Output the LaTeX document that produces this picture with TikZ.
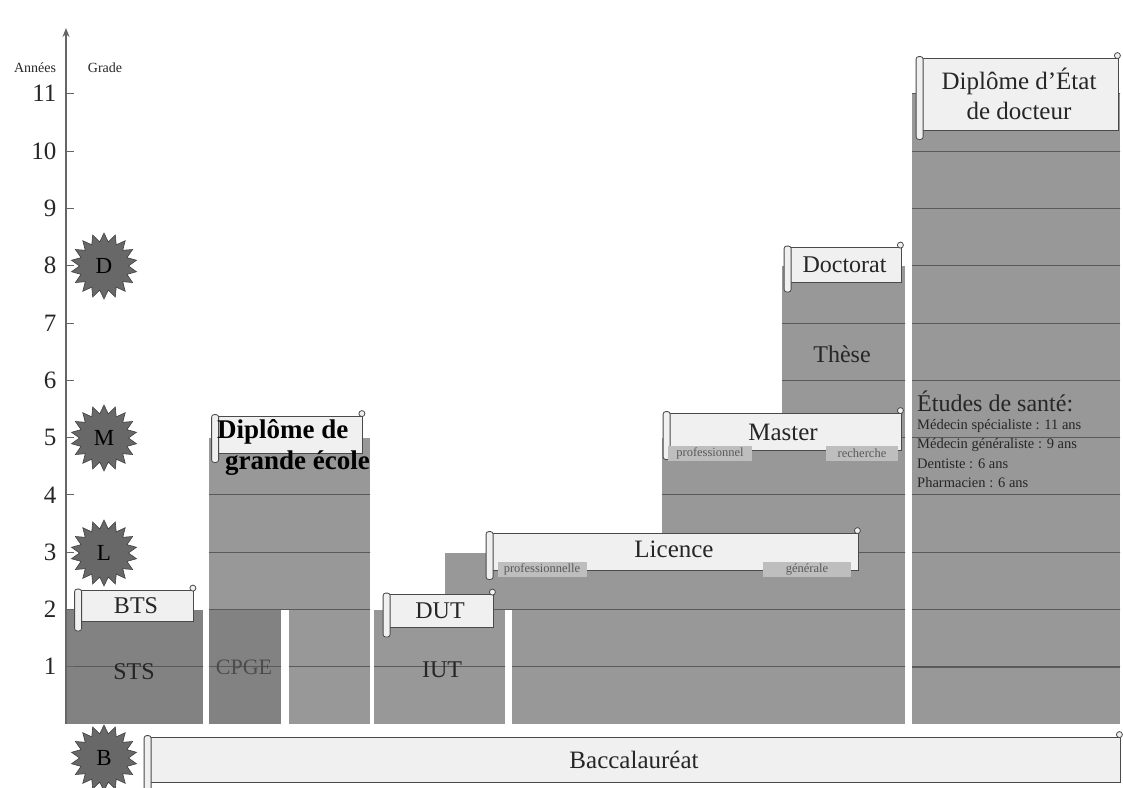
\documentclass[tikz,border=0pt]{standalone}
\usepackage{fontspec}
\setmainfont{Liberation Serif}
\usetikzlibrary{shapes.geometric,arrows.meta}
\definecolor{barfill}{HTML}{989898}
\definecolor{bardark}{HTML}{828282}
\definecolor{scrollfill}{HTML}{F0F0F0}
\definecolor{scrollline}{HTML}{4A4A4A}
\definecolor{starfill}{HTML}{686868}
\definecolor{subfill}{HTML}{BEBEBE}
\definecolor{gridc}{HTML}{5A5A5A}
\newcommand\fs[1]{\fontsize{#1}{#1}\selectfont}
\newcommand\scrollcurls[1]{%
  \draw[draw=scrollline, fill=scrollfill, line width=0.8pt, rounded corners=2.5pt]
    ([xshift=-3.5pt,yshift=1pt]#1.north west) rectangle ([xshift=3.5pt,yshift=-9pt]#1.south west);
  \draw[draw=scrollline, fill=scrollfill, line width=0.8pt]
    ([xshift=-1pt,yshift=2pt]#1.north east) circle (3pt);}
\begin{document}
\begin{tikzpicture}[x=1pt,y=-1pt,
  bar/.style={fill=barfill, draw=none},
  bardk/.style={fill=bardark, draw=none},
  scrollbox/.style={draw=scrollline, fill=scrollfill, line width=0.8pt, inner sep=0pt, text=black!85},
  sublabel/.style={fill=subfill, inner sep=1pt, minimum height=15pt, text=black!65, font=\fs{12.5}},
  grade/.style={star, star points=18, star point ratio=1.35, minimum size=66pt, inner sep=0pt,
                fill=starfill, draw=black!75, line width=0.6pt, font=\fs{23}},
  yearlabel/.style={anchor=east, font=\fs{25}, text=black!85},
  bartext/.style={font=\fs{24}, text=black!85},
  small/.style={anchor=west, font=\fs{14.5}, text=black!85, inner sep=1pt}]
\useasboundingbox (0,0) rectangle (1123,787);
\fill[white] (0,0) rectangle (1123,787);

% bars
\fill[bardk] (66,610) rectangle (203,724);
\fill[bardk] (209,610) rectangle (281,724);
\fill[bar] (209,438) rectangle (370,610);
\fill[bar] (289,610) rectangle (370,724);
\fill[bar] (374,610) rectangle (505,724);
\fill[bar] (445,553) rectangle (905,610);
\fill[bar] (512,610) rectangle (905,724);
\fill[bar] (662,438) rectangle (905,553);
\fill[bar] (782,266) rectangle (905,438);
\fill[bar] (912,93) rectangle (1120,724);

% grid lines inside bars
\begin{scope}
  \clip (66,610) rectangle (203,724) (209,610) rectangle (281,724)
        (209,438) rectangle (370,610) (289,610) rectangle (370,724)
        (374,610) rectangle (505,724) (445,553) rectangle (905,610)
        (512,610) rectangle (905,724) (662,438) rectangle (905,553)
        (782,266) rectangle (905,438) (912,93) rectangle (1120,724);
  \foreach \k in {1,...,11}
    \draw[gridc, line width=0.7pt] (60,{724-57.3*\k}) -- (1123,{724-57.3*\k});
  \draw[gridc, line width=1.6pt] (912,{724-57.3}) -- (1120,{724-57.3});
\end{scope}

% axis
\draw[black!60, line width=1.5pt, -{Stealth[length=9pt,width=7pt]}] (66,724) -- (66,28);
\foreach \k in {1,...,11} {
  \draw[black!60, line width=0.7pt] (66,{724-57.3*\k}) -- (74,{724-57.3*\k});
  \node[yearlabel] (y\k) at (60,{724-57.3*\k}) {\k};
}
\node[font=\fs{14}, text=black!85] (annees) at (35,68) {Années};
\node[font=\fs{14}, text=black!85] (gradet) at (105,68) {Grade};

% grade stars
\node[grade] (gD) at (104,266) {D};
\node[grade] (gM) at (104,438) {M};
\node[grade] (gL) at (104,553) {L};
\node[grade] (gB) at (104,758) {B};

% texts in bars
\node[bartext] (sts) at (134,672) {STS};
\node[font=\fs{22}, text=black!70] (cpge) at (244,667) {CPGE};
\node[bartext] (iut) at (442,670) {IUT};
\node[bartext] (these) at (842,354) {Thèse};

% scrolls
\node[scrollbox, minimum width=115pt, minimum height=31pt, font=\fs{24}] (bts) at (136,606) {BTS};
\scrollcurls{bts}
\node[scrollbox, minimum width=147pt, minimum height=37pt] (dge) at (289,434.5) {};
\scrollcurls{dge}
\node[anchor=north west, align=left, font=\bfseries\fontsize{27}{31}\selectfont, inner sep=0pt] (dget) at (217,419)
  {Diplôme de\\\hspace*{8pt}grande école};
\node[scrollbox, minimum width=106pt, minimum height=33pt, font=\fs{24}] (dut) at (440,611) {DUT};
\scrollcurls{dut}
\node[scrollbox, minimum width=368pt, minimum height=37pt] (lic) at (674,551.5) {};
\scrollcurls{lic}
\node[font=\fs{25}, text=black!85] (lict) at (674,549) {Licence};
\node[sublabel, minimum width=89pt] (licpro) at (542,569) {professionnelle};
\node[sublabel, minimum width=88pt] (licgen) at (807,569) {générale};
\node[scrollbox, minimum width=234pt, minimum height=37pt] (mas) at (784,431.5) {};
\scrollcurls{mas}
\node[font=\fs{25}, text=black!85] (mast) at (783,432) {Master};
\node[sublabel, minimum width=84pt] (maspro) at (710,453) {professionnel};
\node[sublabel, minimum width=72pt] (masrec) at (862,453) {recherche};
\node[scrollbox, minimum width=113pt, minimum height=35pt, font=\fs{24}] (doc) at (844.5,265) {Doctorat};
\scrollcurls{doc}
\node[scrollbox, minimum width=198pt, minimum height=72pt, align=center, font=\fontsize{25}{30}\selectfont] (ded) at (1019,94)
  {Diplôme d’État\\de docteur};
\scrollcurls{ded}
\node[scrollbox, minimum width=972pt, minimum height=45pt, font=\fs{25}] (bac) at (634,759.5) {Baccalauréat};
\scrollcurls{bac}

% health studies
\node[anchor=west, font=\fs{24}, text=black!85, inner sep=1pt] (sante) at (916,401) {Études de santé:};
\node[small] (s1) at (916,426) {Médecin spécialiste : 11 ans};
\node[small] (s2) at (916,445) {Médecin généraliste : 9 ans};
\node[small] (s3) at (916,464) {Dentiste : 6 ans};
\node[small] (s4) at (916,483) {Pharmacien : 6 ans};
\end{tikzpicture}
\end{document}
